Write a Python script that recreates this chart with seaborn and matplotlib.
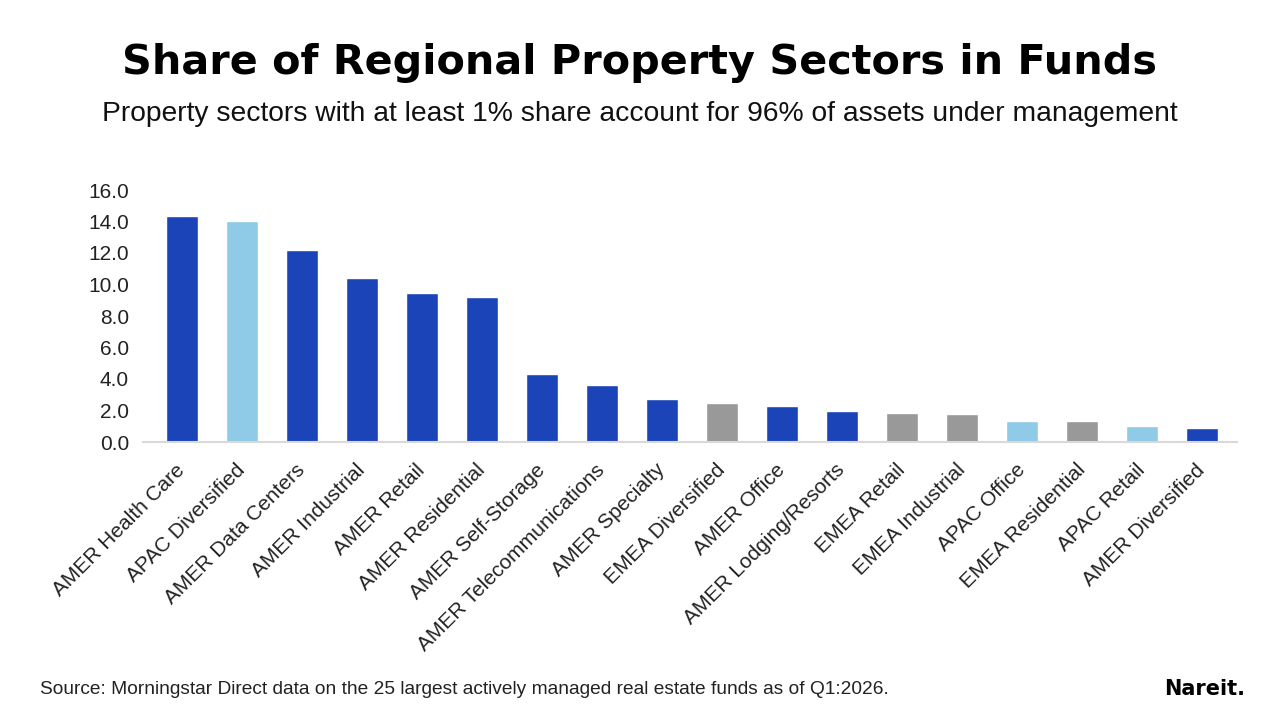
import matplotlib
matplotlib.use("Agg")
import matplotlib.pyplot as plt
import seaborn as sns
import pandas as pd

# 펀드 내 지역별 부동산 섹터 비중 (%)
sectors = ['AMER Health Care', 'APAC Diversified', 'AMER Data Centers', 'AMER Industrial',
           'AMER Retail', 'AMER Residential', 'AMER Self-Storage', 'AMER Telecommunications',
           'AMER Specialty', 'EMEA Diversified', 'AMER Office', 'AMER Lodging/Resorts',
           'EMEA Retail', 'EMEA Industrial', 'APAC Office', 'EMEA Residential',
           'APAC Retail', 'AMER Diversified']
shares = [14.37, 14.03, 12.17, 10.40, 9.47, 9.21, 4.33, 3.63, 2.71, 2.45,
          2.29, 1.95, 1.84, 1.78, 1.33, 1.33, 1.02, 0.92]
region_colors = {'AMER': '#1B44B9', 'APAC': '#8FCAE7', 'EMEA': '#999999'}

df = pd.DataFrame({'sector': sectors, 'share': shares})
df['region'] = df['sector'].str.split().str[0]

sns.set_theme(style='white')
plt.rcParams['font.family'] = ['Liberation Sans', 'DejaVu Sans']

fig = plt.figure(figsize=(12.8, 7.2), dpi=100)
ax = fig.add_axes([143 / 1280, 1 - 442 / 720, (1237 - 143) / 1280, (442 - 190) / 720])

sns.barplot(data=df, x='sector', y='share', hue='region', palette=region_colors,
            dodge=False, width=0.53, legend=False, saturation=1, ax=ax)

ax.set_xlim(-0.65, 17.58)
ax.set_ylim(0, 16)
ax.set_yticks(range(0, 17, 2))
ax.set_yticklabels([f'{v:.1f}' for v in range(0, 17, 2)], fontsize=15, color='#222222')
ax.set_xlabel('')
ax.set_ylabel('')
ax.tick_params(axis='both', length=0)
ax.tick_params(axis='y', pad=10)
for lab in ax.get_xticklabels():
    lab.set_rotation(45)
    lab.set_ha('right')
    lab.set_va('center')
    lab.set_rotation_mode('anchor')
    lab.set_fontsize(15)
    lab.set_color('#222222')
ax.tick_params(axis='x', pad=18)

for s in ['top', 'right', 'left']:
    ax.spines[s].set_visible(False)
ax.spines['bottom'].set_color('#d9d9d9')
ax.spines['bottom'].set_linewidth(1.5)

fig.text(0.5, 1 - 63 / 720, 'Share of Regional Property Sectors in Funds',
         ha='center', va='center', fontsize=29.8, fontweight='bold', color='black',
         family='DejaVu Sans')
fig.text(0.5, 1 - 114 / 720, 'Property sectors with at least 1% share account for 96% of assets under management',
         ha='center', va='center', fontsize=20.3, color='#111111')
fig.text(40 / 1280, 1 - 690 / 720,
         'Source: Morningstar Direct data on the 25 largest actively managed real estate funds as of Q1:2026.',
         ha='left', va='center', fontsize=13.8, color='#222222')
fig.text(1245 / 1280, 1 - 689 / 720, 'Nareit.', ha='right', va='center',
         fontsize=15, fontweight='bold', color='black', family='DejaVu Sans')

fig.savefig('out.png', dpi=100)
